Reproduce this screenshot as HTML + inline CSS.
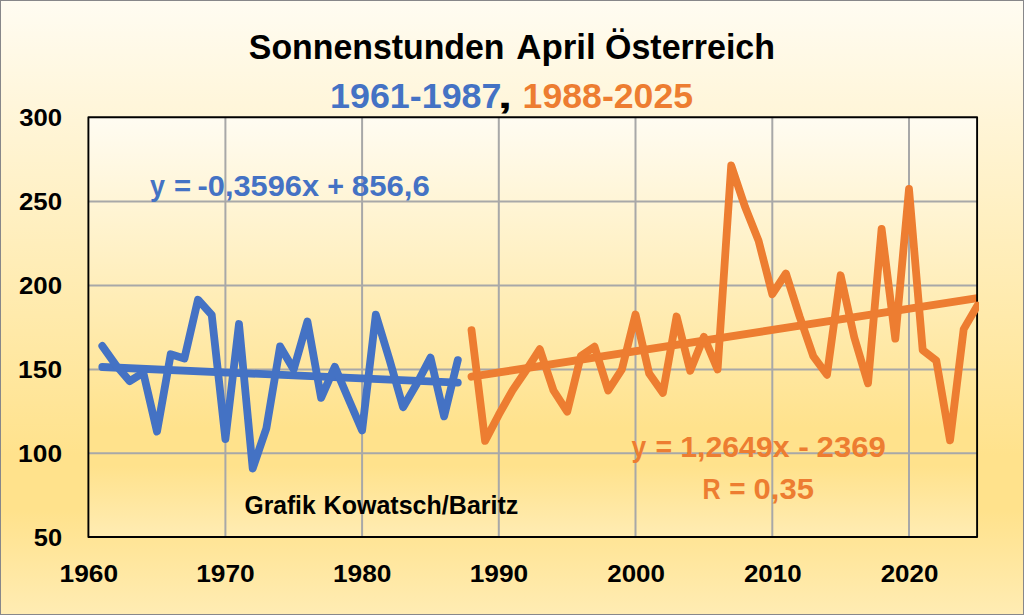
<!DOCTYPE html>
<html><head><meta charset="utf-8"><title>Sonnenstunden April Österreich</title>
<style>
html,body{margin:0;padding:0;background:#fff;}
body{width:1024px;height:615px;overflow:hidden;font-family:"Liberation Sans",sans-serif;}
svg{display:block;}
text{font-family:"Liberation Sans",sans-serif;font-weight:bold;stroke-width:0px;stroke-linejoin:round;}
</style></head><body>
<svg width="1024" height="615" viewBox="0 0 1024 615">
<defs>
<linearGradient id="g" x1="0" y1="0" x2="0" y2="1">
<stop offset="0" stop-color="#FFFCF2"/><stop offset="0.74" stop-color="#FFE28C"/>
<stop offset="0.83" stop-color="#FFE28C"/><stop offset="1" stop-color="#FFECB3"/>
</linearGradient>
<clipPath id="c"><rect x="88.4" y="117.2" width="888.7" height="419.8"/></clipPath>
<clipPath id="d"><rect x="88.4" y="117.2" width="890.6" height="419.8"/></clipPath>
</defs>
<rect x="0" y="0" width="1024" height="615" fill="url(#g)"/>
<rect x="0.5" y="0.5" width="1023" height="614" fill="none" stroke="#87878A" stroke-width="1"/>
<rect x="88.4" y="117.2" width="888.7" height="419.8" fill="url(#g)"/>
<g stroke="#A8A8A8" stroke-width="2"><line x1="225.4" y1="117.2" x2="225.4" y2="537.0"/><line x1="362.1" y1="117.2" x2="362.1" y2="537.0"/><line x1="498.8" y1="117.2" x2="498.8" y2="537.0"/><line x1="635.5" y1="117.2" x2="635.5" y2="537.0"/><line x1="772.3" y1="117.2" x2="772.3" y2="537.0"/><line x1="909.0" y1="117.2" x2="909.0" y2="537.0"/><line x1="88.4" y1="453.3" x2="977.1" y2="453.3"/><line x1="88.4" y1="369.4" x2="977.1" y2="369.4"/><line x1="88.4" y1="285.4" x2="977.1" y2="285.4"/><line x1="88.4" y1="201.5" x2="977.1" y2="201.5"/></g>
<g clip-path="url(#c)" fill="none" stroke-linecap="round" stroke-width="7.8">
<polyline stroke="#4472C4" points="102.3,367.0 457.8,382.7"/>
<polyline stroke="#ED7D31" points="471.5,376.7 977.4,298.1"/>
</g>
<rect x="88.4" y="117.2" width="888.7" height="419.8" fill="none" stroke="#000" stroke-width="1.9" stroke-linejoin="round"/>
<g clip-path="url(#d)" fill="none" stroke-linejoin="round" stroke-linecap="round" stroke-width="7.8">
<polyline stroke="#4472C4" points="102.3,345.9 116.0,365.2 129.7,381.1 143.3,372.7 157.0,431.5 170.7,354.3 184.4,358.5 198.0,299.7 211.7,314.8 225.4,439.1 239.0,324.0 252.7,468.5 266.4,428.2 280.1,346.4 293.7,369.4 307.4,321.5 321.1,397.9 334.8,366.9 348.4,398.8 362.1,430.5 375.8,314.6 389.4,359.3 403.1,407.2 416.8,383.7 430.5,357.6 444.1,416.4 457.8,360.1"/>
<polyline stroke="#ED7D31" points="471.5,330.1 485.1,440.9 498.8,414.7 512.5,390.4 526.2,370.2 539.8,349.2 553.5,390.5 567.2,411.7 580.9,355.9 594.5,346.7 608.2,390.5 621.9,369.4 635.5,314.5 649.2,373.6 662.9,392.9 676.6,316.5 690.2,370.7 703.9,336.8 717.6,369.4 731.2,165.4 744.9,206.5 758.6,240.9 772.3,294.2 785.9,273.5 799.6,316.5 813.3,356.3 827.0,374.8 840.6,275.3 854.3,337.5 868.0,383.3 881.6,228.8 895.3,338.7 909.0,189.0 922.7,350.1 936.3,360.6 950.0,440.4 963.7,329.1 977.4,305.6"/>
</g>
<text transform="translate(248.85 59.32) scale(0.9562 1)" font-size="35.40" fill="#000" stroke="#000">Sonnenstunden</text>
<text transform="translate(516.20 59.32) scale(0.9869 1)" font-size="35.40" fill="#000" stroke="#000">April</text>
<text transform="translate(605.04 59.32) scale(0.9603 1)" font-size="35.40" fill="#000" stroke="#000">Österreich</text>
<text transform="translate(330.05 107.54) scale(0.9981 1)" font-size="35.92" fill="#4472C4" stroke="#4472C4">1961-1987</text>
<text transform="translate(497.86 107.54) scale(1.4500 1)" font-size="35.92" fill="#000" stroke="#000">,</text>
<text transform="translate(522.56 107.54) scale(0.9931 1)" font-size="35.92" fill="#ED7D31" stroke="#ED7D31">1988-2025</text>
<text transform="translate(150.07 195.95) scale(0.9098 1)" font-size="29.58" fill="#4472C4" stroke="#4472C4">y</text>
<text transform="translate(174.03 195.95) scale(0.9909 1)" font-size="29.58" fill="#4472C4" stroke="#4472C4">=</text>
<text transform="translate(197.52 195.95) scale(1.0411 1)" font-size="29.58" fill="#4472C4" stroke="#4472C4">-0,3596x</text>
<text transform="translate(327.15 195.95) scale(0.9708 1)" font-size="29.58" fill="#4472C4" stroke="#4472C4">+</text>
<text transform="translate(351.86 195.95) scale(1.0540 1)" font-size="29.58" fill="#4472C4" stroke="#4472C4">856,6</text>
<text transform="translate(631.47 457.00) scale(0.8913 1)" font-size="29.58" fill="#ED7D31" stroke="#ED7D31">y</text>
<text transform="translate(655.56 457.00) scale(0.9641 1)" font-size="29.58" fill="#ED7D31" stroke="#ED7D31">=</text>
<text transform="translate(680.18 457.00) scale(1.0233 1)" font-size="29.58" fill="#ED7D31" stroke="#ED7D31">1,2649x</text>
<text transform="translate(798.28 457.00) scale(1.0793 1)" font-size="29.58" fill="#ED7D31" stroke="#ED7D31">-</text>
<text transform="translate(816.57 457.00) scale(1.0526 1)" font-size="29.58" fill="#ED7D31" stroke="#ED7D31">2369</text>
<text transform="translate(702.56 498.95) scale(0.8406 1)" font-size="29.93" fill="#ED7D31" stroke="#ED7D31">R</text>
<text transform="translate(729.18 498.95) scale(0.9329 1)" font-size="29.93" fill="#ED7D31" stroke="#ED7D31">=</text>
<text transform="translate(753.62 498.95) scale(1.0351 1)" font-size="29.93" fill="#ED7D31" stroke="#ED7D31">0,35</text>
<text transform="translate(244.51 514.20) scale(0.9783 1)" font-size="25.18" fill="#000" stroke="#000">Grafik</text>
<text transform="translate(323.57 514.20) scale(0.9945 1)" font-size="25.18" fill="#000" stroke="#000">Kowatsch/Baritz</text>
<text transform="translate(33.74 545.80) scale(1.0316 1)" font-size="24.65" fill="#000" stroke="#000">50</text>
<text transform="translate(18.12 461.84) scale(1.0683 1)" font-size="24.65" fill="#000" stroke="#000">100</text>
<text transform="translate(18.12 377.88) scale(1.0683 1)" font-size="24.65" fill="#000" stroke="#000">150</text>
<text transform="translate(18.92 293.92) scale(1.0483 1)" font-size="24.65" fill="#000" stroke="#000">200</text>
<text transform="translate(18.92 209.96) scale(1.0483 1)" font-size="24.65" fill="#000" stroke="#000">250</text>
<text transform="translate(19.19 126.00) scale(1.0418 1)" font-size="24.65" fill="#000" stroke="#000">300</text>
<text transform="translate(59.52 582.35) scale(1.0674 1)" font-size="24.65" fill="#000" stroke="#000">1960</text>
<text transform="translate(196.24 582.35) scale(1.0674 1)" font-size="24.65" fill="#000" stroke="#000">1970</text>
<text transform="translate(332.97 582.35) scale(1.0674 1)" font-size="24.65" fill="#000" stroke="#000">1980</text>
<text transform="translate(469.69 582.35) scale(1.0674 1)" font-size="24.65" fill="#000" stroke="#000">1990</text>
<text transform="translate(607.21 582.35) scale(1.0526 1)" font-size="24.65" fill="#000" stroke="#000">2000</text>
<text transform="translate(743.94 582.35) scale(1.0526 1)" font-size="24.65" fill="#000" stroke="#000">2010</text>
<text transform="translate(880.66 582.35) scale(1.0526 1)" font-size="24.65" fill="#000" stroke="#000">2020</text>
</svg>
</body></html>
